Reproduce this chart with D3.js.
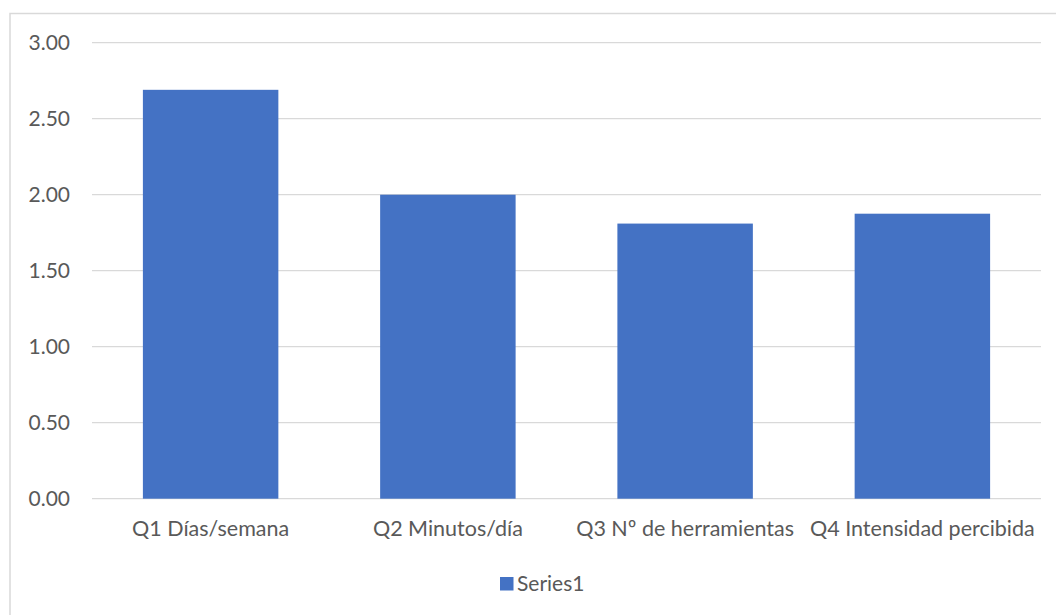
<!DOCTYPE html>
<html>
<head>
<meta charset="utf-8">
<script src="https://cdn.jsdelivr.net/npm/d3@7/dist/d3.min.js"></script>
<style>
    body { margin: 0; background: #fff; }
    text { font-family: Lato, "Open Sans", sans-serif; fill: #595959; }
</style>
</head>
<body>
<svg id="chart" width="1056" height="615"></svg>
<script>
const categories = ['Q1 Días/semana', 'Q2 Minutos/día', 'Q3 Nº de herramientas', 'Q4 Intensidad percibida']
const series1 = [2.69, 2.00, 1.81, 1.875]
const yTicks = [0, 0.5, 1, 1.5, 2, 2.5, 3]
const seriesName = 'Series1'

const svg = d3.select('#chart')
const plot = { left: 92, right: 1041, top: 42.7, bottom: 498.7 }

// chart frame
svg.append('rect')
    .attr('x', 10).attr('y', 13.5)
    .attr('width', 1060).attr('height', 620)
    .attr('fill', 'none')
    .attr('stroke', '#d9d9d9')
    .attr('stroke-width', 1.5)

const x = d3.scaleBand()
    .domain(categories)
    .range([plot.left, plot.right])
    .paddingInner(0.429)
    .paddingOuter(0.2145)

const y = d3.scaleLinear()
    .domain([0, 3])
    .range([plot.bottom, plot.top])

// gridlines
svg.append('g')
    .selectAll('line')
    .data(yTicks)
    .join('line')
    .attr('x1', plot.left)
    .attr('x2', plot.right)
    .attr('y1', d => y(d))
    .attr('y2', d => y(d))
    .attr('stroke', '#d9d9d9')
    .attr('stroke-width', 1.3)

// y labels
const yAxis = d3.axisLeft(y)
    .tickValues(yTicks)
    .tickFormat(d3.format('.2f'))
    .tickSize(0)
    .tickPadding(0)
const gy = svg.append('g')
    .attr('transform', `translate(${plot.left - 22}, 0)`)
    .call(yAxis)
gy.select('.domain').remove()
gy.selectAll('text')
    .style('font-size', '21px')
    .attr('fill', '#595959')

// bars
svg.append('g')
    .selectAll('rect')
    .data(series1)
    .join('rect')
    .attr('x', (d, i) => x(categories[i]))
    .attr('y', d => y(d))
    .attr('width', x.bandwidth())
    .attr('height', d => y(0) - y(d))
    .attr('fill', '#4472c4')

// x labels
const xAxis = d3.axisBottom(x).tickSize(0).tickPadding(0)
const gx = svg.append('g')
    .attr('transform', `translate(0, ${plot.bottom + 22})`)
    .call(xAxis)
gx.select('.domain').remove()
gx.selectAll('text')
    .style('font-size', '21.5px')
    .attr('fill', '#595959')

// legend
const legend = svg.append('g').attr('transform', 'translate(500, 577)')
legend.append('rect')
    .attr('width', 13.5).attr('height', 13.5)
    .attr('fill', '#4472c4')
legend.append('text')
    .attr('x', 17).attr('y', 7)
    .attr('dy', '0.35em')
    .style('font-size', '21px')
    .text(seriesName)
</script>
</body>
</html>
